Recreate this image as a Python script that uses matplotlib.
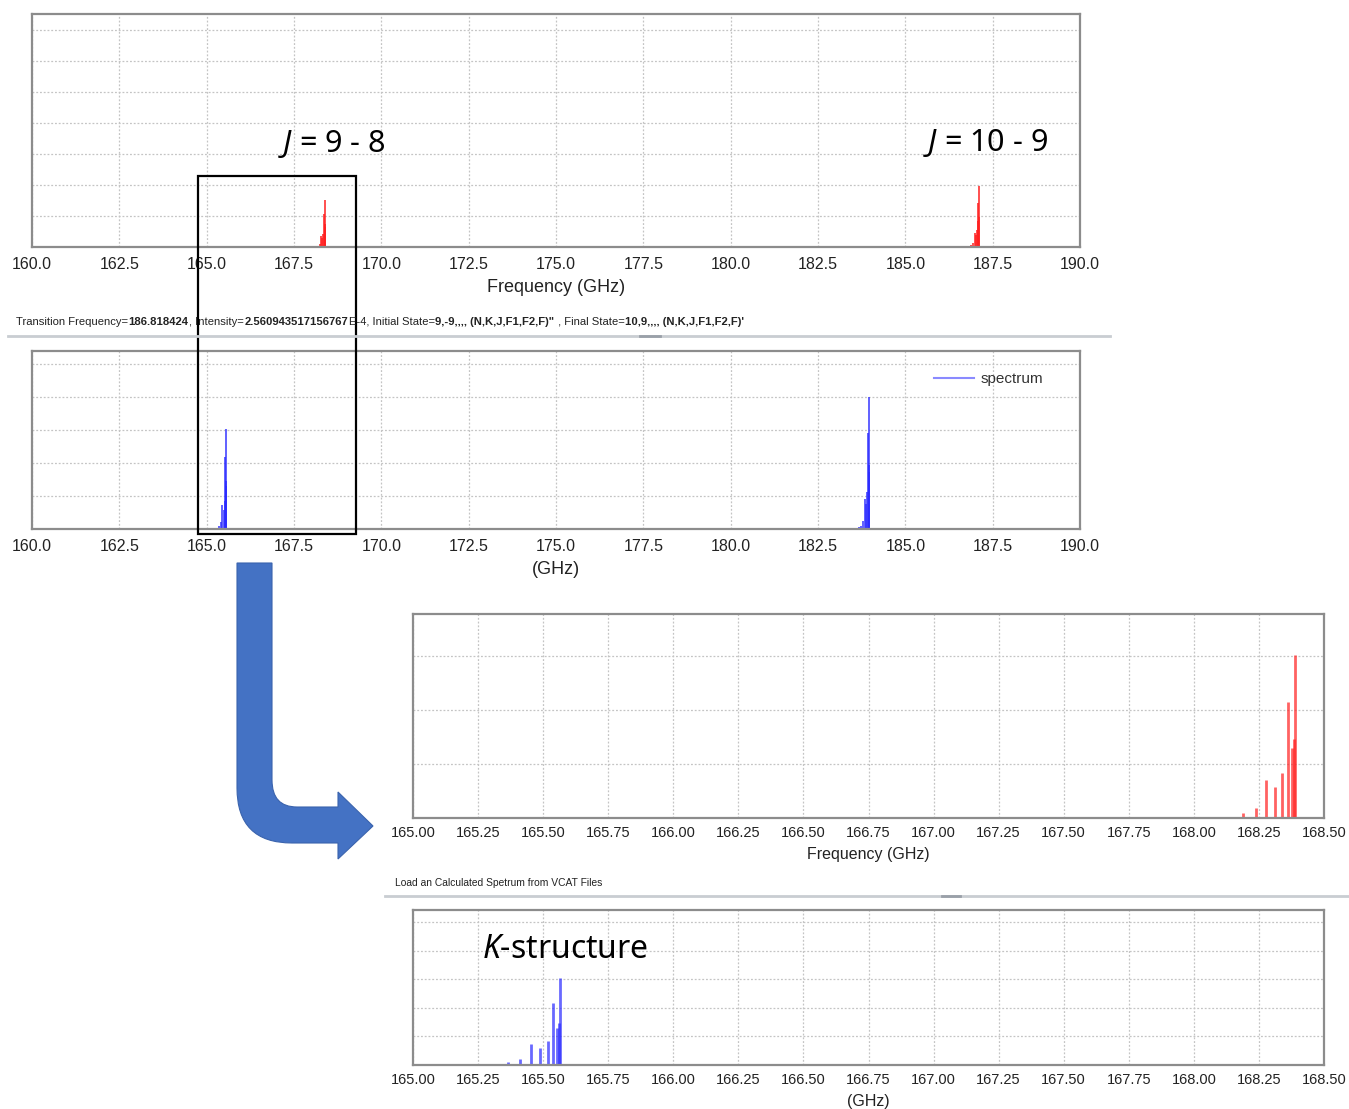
"""Rotational spectrum overview (J = 9-8, J = 10-9) with K-structure zoom."""

import matplotlib.pyplot as plt
from matplotlib.patches import PathPatch, Rectangle
from matplotlib.path import Path
from matplotlib.lines import Line2D

plt.rcParams["font.family"] = ["Liberation Sans", "DejaVu Sans"]
plt.rcParams["mathtext.fontset"] = "custom"
plt.rcParams["mathtext.rm"] = "Noto Sans"
plt.rcParams["mathtext.it"] = "Noto Sans:italic"

# ---- data (frequencies in GHz, intensities in arbitrary units) ----
# calculated spectrum (red), K components ordered high K -> K = 0
calc_98_freq = [168.189, 168.239, 168.277, 168.312, 168.339, 168.362, 168.377, 168.385, 168.389]
calc_98_int = [0.09, 0.19, 0.70, 0.57, 0.83, 2.15, 1.30, 1.46, 3.02]
calc_109_freq = [186.818, 186.880, 186.935, 186.982, 187.020, 187.052, 187.076, 187.090, 187.098, 187.104]
calc_109_int = [0.05, 0.10, 0.25, 0.90, 0.75, 1.10, 2.85, 1.70, 1.90, 3.94]

# loaded spectrum (blue)
spec_98_freq = [165.364, 165.411, 165.452, 165.488, 165.517, 165.539, 165.554, 165.560, 165.566]
spec_98_int = [0.09, 0.21, 0.72, 0.58, 0.84, 2.17, 1.29, 1.47, 3.04]
spec_109_freq = [183.680, 183.740, 183.795, 183.840, 183.880, 183.910, 183.935, 183.948, 183.956, 183.962]
spec_109_int = [0.05, 0.10, 0.25, 0.92, 0.76, 1.12, 2.90, 1.72, 1.95, 4.00]

wide_ticks = [160.0, 162.5, 165.0, 167.5, 170.0, 172.5, 175.0, 177.5, 180.0, 182.5, 185.0, 187.5, 190.0]
zoom_ticks = [165.00, 165.25, 165.50, 165.75, 166.00, 166.25, 166.50, 166.75,
              167.00, 167.25, 167.50, 167.75, 168.00, 168.25, 168.50]

W, H = 1349, 1109
RED = "#ff2020"
BLUE = "#2a2aff"
FRAME = "#8c8c8c"
GRID = "#c4c4c4"


def px_axes(fig, left, top, right, bottom):
    return fig.add_axes([left / W, 1 - bottom / H, (right - left) / W, (bottom - top) / H])


def style_axes(ax, xlim, xticks, fmt, ylim, ystep, tick_size, label, label_size, pad):
    ax.set_xlim(*xlim)
    ax.set_ylim(*ylim)
    ax.set_xticks(xticks)
    ax.set_xticklabels([fmt % t for t in xticks], fontsize=tick_size, color="#222222")
    ax.set_yticks([ystep * k for k in range(1, int(ylim[1] / ystep) + 1) if ystep * k < ylim[1]])
    ax.set_yticklabels([])
    ax.tick_params(axis="both", length=0, pad=pad)
    ax.grid(True, color=GRID, linestyle=(0, (1.5, 1.5)), linewidth=0.9)
    ax.set_axisbelow(True)
    for s in ax.spines.values():
        s.set_color(FRAME)
        s.set_linewidth(1.6)
    ax.set_xlabel(label, fontsize=label_size, color="#222222", labelpad=5)


fig = plt.figure(figsize=(W / 100, H / 100), dpi=100)

# ---- top: calculated spectrum, wide view ----
ax1 = px_axes(fig, 32, 14, 1080, 247)
ax1.vlines(calc_98_freq, 0, calc_98_int, color=RED, linewidth=1.3, alpha=0.85)
ax1.vlines(calc_109_freq, 0, calc_109_int, color=RED, linewidth=1.3, alpha=0.85)
style_axes(ax1, (160, 190), wide_ticks, "%.1f", (0, 15), 2, 11.5, "Frequency (GHz)", 13, 7)

# ---- middle: loaded spectrum, wide view ----
ax2 = px_axes(fig, 32, 351, 1080, 529)
ax2.vlines(spec_98_freq, 0, spec_98_int, color=BLUE, linewidth=1.3, alpha=0.8)
ax2.vlines(spec_109_freq, 0, spec_109_int, color=BLUE, linewidth=1.3, alpha=0.8)
style_axes(ax2, (160, 190), wide_ticks, "%.1f", (0, 5.4), 1, 11.5, "(GHz)", 13, 7)
ax2.legend(handles=[Line2D([], [], color="#8a8aff", linewidth=1.5)], labels=["spectrum"],
           loc="upper right", bbox_to_anchor=(0.978, 0.96), frameon=False, fontsize=11,
           handlelength=2.6, handletextpad=0.45, labelcolor="#333333")

# ---- zoom: calculated ----
ax3 = px_axes(fig, 413, 614, 1324, 818)
ax3.vlines(calc_98_freq, 0, calc_98_int, color=RED, linewidth=2.0, alpha=0.7)
style_axes(ax3, (165.0, 168.5), zoom_ticks, "%.2f", (0, 3.78), 1, 10.5, "Frequency (GHz)", 11.5, 6)

# ---- zoom: loaded ----
ax4 = px_axes(fig, 413, 910, 1324, 1065)
ax4.vlines(spec_98_freq, 0, spec_98_int, color=BLUE, linewidth=2.0, alpha=0.7)
style_axes(ax4, (165.0, 168.5), zoom_ticks, "%.2f", (0, 5.42), 1, 10.5, "(GHz)", 11.5, 6)


def fx(x):
    return x / W


def fy(y):
    return 1 - y / H


# ---- status bars ----
pieces = [
    ("Transition Frequency=", "normal"), ("186.818424", "bold"),
    (", Intensity=", "normal"), ("2.560943517156767", "bold"),
    ("E-4, Initial State=", "normal"), ('9,-9,,,, (N,K,J,F1,F2,F)"', "bold"),
    (" , Final State=", "normal"), ("10,9,,,, (N,K,J,F1,F2,F)'", "bold"),
]
renderer = fig.canvas.get_renderer()
x_px = 16
for s, w in pieces:
    t = fig.text(fx(x_px), fy(325), s, fontsize=8.1, fontweight=w, va="baseline",
                 color="#222222")
    x_px += t.get_window_extent(renderer).width + 0.5
fig.add_artist(Line2D([fx(8), fx(1110)], [fy(336), fy(336)], color="#c9cdd2", linewidth=2))
fig.add_artist(Line2D([fx(640), fx(660)], [fy(336), fy(336)], color="#9aa0a8", linewidth=2))

fig.text(fx(395), fy(883), "Load an Calculated Spetrum from VCAT Files", fontsize=7.4,
         va="center", color="#222222")
fig.add_artist(Line2D([fx(385), fx(1349)], [fy(896), fy(896)], color="#c9cdd2", linewidth=2))
fig.add_artist(Line2D([fx(942), fx(960)], [fy(896), fy(896)], color="#9aa0a8", linewidth=2))

# ---- annotations ----
fig.text(fx(278), fy(144), r"$J$ = 9 - 8", fontsize=22, family="Noto Sans", va="center")
fig.text(fx(923), fy(143), r"$J$ = 10 - 9", fontsize=22, family="Noto Sans", va="center")
fig.text(fx(482), fy(949), r"$K$-structure", fontsize=23, family="Noto Sans", va="center")

# selection box
fig.add_artist(Rectangle((fx(198), fy(534)), (356 - 198) / W, (534 - 176) / H,
                         fill=False, edgecolor="black", linewidth=1.6))

# bent arrow from the selection down to the zoomed panels
arrow_pts = [
    ((237, 563), Path.MOVETO), ((272, 563), Path.LINETO), ((272, 780), Path.LINETO),
    ((272, 807), Path.CURVE3), ((297, 807), Path.CURVE3), ((338, 807), Path.LINETO),
    ((338, 792), Path.LINETO), ((373, 826), Path.LINETO), ((338, 859), Path.LINETO),
    ((338, 843), Path.LINETO), ((292, 843), Path.LINETO), ((237, 843), Path.CURVE3),
    ((237, 788), Path.CURVE3), ((237, 563), Path.CLOSEPOLY),
]
arrow_path = Path([(fx(x), fy(y)) for (x, y), _ in arrow_pts], [c for _, c in arrow_pts])
fig.add_artist(PathPatch(arrow_path, facecolor="#4472c4", edgecolor="#3a63ad",
                         linewidth=0.8, transform=fig.transFigure))

fig.savefig("out.png", dpi=100)
